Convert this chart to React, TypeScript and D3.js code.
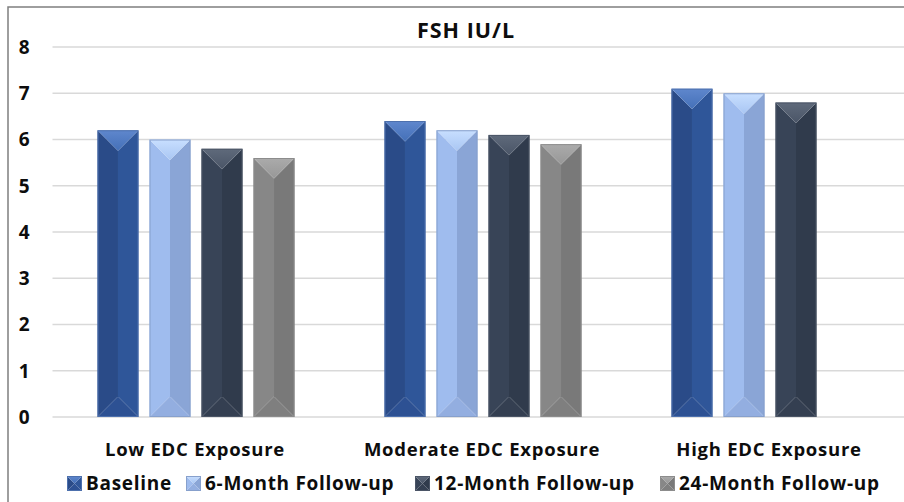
import React from "react";
import * as d3 from "d3";

const categories = ["Low EDC Exposure", "Moderate EDC Exposure", "High EDC Exposure"];
const seriesNames = ["Baseline", "6-Month Follow-up", "12-Month Follow-up", "24-Month Follow-up"];
const baseline = [6.2, 6.4, 7.1];
const month6 = [6.0, 6.2, 7.0];
const month12 = [5.8, 6.1, 6.8];
const month24: (number | null)[] = [5.6, 5.9, null];
const yTicks = [0, 1, 2, 3, 4, 5, 6, 7, 8];

const seriesValues: (number | null)[][] = [baseline, month6, month12, month24];

// bevel face colours: top, left, right, bottom, edge
const palettes = [
  { top: "#5f87cd", topDark: "#4470b8", left: "#2a4b88", right: "#2f5699", bottom: "#2d5193", edge: "#4d70ad" },
  { top: "#c8dfff", topDark: "#a9c6f3", left: "#9fbcee", right: "#8aa5d6", bottom: "#93aee0", edge: "#87a0cc" },
  { top: "#5f6a7b", topDark: "#4a5567", left: "#384457", right: "#303b4c", bottom: "#343f51", edge: "#4b5566" },
  { top: "#ababab", topDark: "#979797", left: "#878787", right: "#797979", bottom: "#7f7f7f", edge: "#8c8c8c" },
];

const FONT = "'Open Sans', 'Liberation Sans', sans-serif";

type Palette = typeof palettes[0];

function BevelBar({ x, y, w, h, p, id }: { x: number; y: number; w: number; h: number; p: Palette; id: string }) {
  const d = Math.min(w / 2, h / 2);
  const cx = x + w / 2;
  const pts = (a: number[][]) => a.map((q) => q.join(",")).join(" ");
  return (
    <g>
      <defs>
        <linearGradient id={id} x1="0" y1="0" x2="0" y2="1">
          <stop offset="0" stopColor={p.top} />
          <stop offset="1" stopColor={p.topDark} />
        </linearGradient>
      </defs>
      <polygon points={pts([[x, y], [cx, y + d], [cx, y + h - d], [x, y + h]])} fill={p.left} />
      <polygon points={pts([[x + w, y], [cx, y + d], [cx, y + h - d], [x + w, y + h]])} fill={p.right} />
      <polygon points={pts([[x, y + h], [cx, y + h - d], [x + w, y + h]])} fill={p.bottom} />
      <polygon points={pts([[x, y], [x + w, y], [cx, y + d]])} fill={`url(#${id})`} />
      <rect x={x + 0.5} y={y + 0.5} width={w - 1} height={h - 1} fill="none" stroke={p.edge} strokeWidth={1} />
    </g>
  );
}

export default function App() {
  const width = 904;
  const height = 502;
  const plotLeft = 52.5;
  const plotRight = 913.5;
  const y = d3.scaleLinear().domain([0, 8]).range([417, 47]);

  const x0 = d3.scaleBand<string>().domain(categories).range([plotLeft, plotRight]).paddingInner(0).paddingOuter(0);
  const groupWidth = 197;
  const x1 = d3.scaleBand<string>().domain(seriesNames).range([0, groupWidth]).paddingInner(0.212).paddingOuter(0);
  const groupOffset = (x0.bandwidth() - groupWidth) / 2;

  const legendX = [67, 186, 415, 660];

  return (
    <svg
      width={width}
      height={height}
      style={{ position: "absolute", left: 0, top: 0, background: "#fff" }}
      fontFamily={FONT}
    >
      <rect x={0} y={0} width={width} height={height} fill="#fff" />
      {/* chart frame */}
      <rect x={8} y={7} width={width + 20} height={height + 20} fill="none" stroke="#7f7f7f" strokeWidth={1.5} />

      <text x={466} y={38} textAnchor="middle" fontSize={21.5} fontWeight={700} letterSpacing={1} fill="#0d0d0d">
        FSH IU/L
      </text>

      {/* gridlines */}
      {yTicks.map((t) => (
        <g key={t}>
          <line x1={plotLeft} x2={width} y1={y(t)} y2={y(t)} stroke="#d9d9d9" strokeWidth={1.5} />
          <text x={29.5} y={y(t)} dy="0.36em" textAnchor="end" fontSize={19} fontWeight={700} fill="#0d0d0d">
            {t}
          </text>
        </g>
      ))}

      {/* bars */}
      {categories.map((c, ci) =>
        seriesNames.map((s, si) => {
          const v = seriesValues[si][ci];
          if (v == null) return null;
          const bx = (x0(c) as number) + groupOffset + (x1(s) as number);
          const top = y(v);
          return (
            <BevelBar
              key={`${ci}-${si}`}
              id={`g-${ci}-${si}`}
              x={bx}
              y={top}
              w={x1.bandwidth()}
              h={y(0) - top}
              p={palettes[si]}
            />
          );
        })
      )}

      {/* category labels */}
      {categories.map((c) => (
        <text
          key={c}
          x={(x0(c) as number) + x0.bandwidth() / 2 - 1}
          y={456}
          textAnchor="middle"
          fontSize={18.5}
          fontWeight={700}
          letterSpacing={0.75}
          fill="#0d0d0d"
        >
          {c}
        </text>
      ))}

      {/* legend */}
      {seriesNames.map((s, i) => (
        <g key={s}>
          <BevelBar x={legendX[i]} y={476} w={15} h={15} p={palettes[i]} id={`lg-${i}`} />
          <text x={legendX[i] + 19} y={490} fontSize={19} fontWeight={700} letterSpacing={0.7} fill="#0d0d0d">
            {s}
          </text>
        </g>
      ))}
    </svg>
  );
}
